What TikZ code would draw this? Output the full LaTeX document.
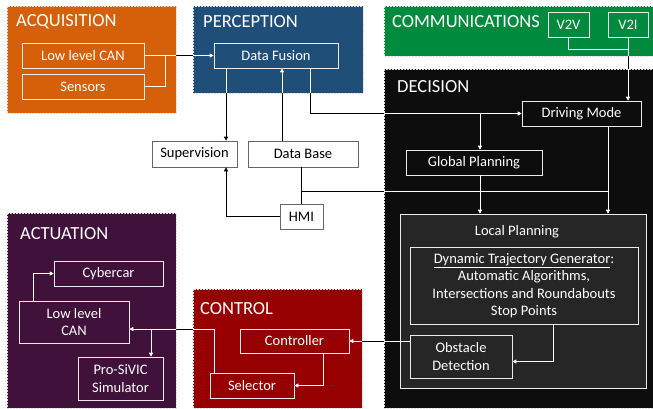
\documentclass[tikz,border=0pt]{standalone}
\usepackage{fontspec}
\setmainfont{Carlito}
\usetikzlibrary{arrows.meta}

\definecolor{acqcol}{RGB}{214,96,9}
\definecolor{perccol}{RGB}{31,78,121}
\definecolor{commcol}{RGB}{0,138,62}
\definecolor{deccol}{RGB}{13,13,13}
\definecolor{actcol}{RGB}{64,17,59}
\definecolor{ctlcol}{RGB}{150,0,0}
\definecolor{lpcol}{RGB}{38,38,38}

\tikzset{
  blk/.style={draw=white!75!gray, dash pattern=on 2pt off 1pt, line width=.5pt},
  ttl/.style={anchor=west, inner sep=0pt, text=white, font=\fontsize{18.5}{20}\selectfont},
  wbox/.style={draw=white!85!gray, line width=.6pt, text=white, inner sep=1pt,
     align=center, font=\fontsize{14.5}{17.5}\selectfont},
  bbox/.style={draw=black!60, line width=.6pt, fill=white, text=black, inner sep=1pt,
     font=\fontsize{14.5}{17.5}\selectfont},
  lnk/.style={line width=.6pt},
  arr/.style={lnk, -{Triangle[length=4pt,width=4pt]}}
}

% all connectors, drawn once in black and once in white inside the blocks
\newcommand\connectors[1]{
  \begin{scope}[#1]
  \draw[lnk] (acan.east) -- (j1);
  \draw[lnk] (sens.east) -| (j1);
  \draw[arr] (j1) -- (fusion.west);
  \draw[arr] ([xshift=-50pt]fusion.south) -- ([xshift=-50pt]fusion.south |- superv.north);
  \draw[arr] ([xshift=-21pt]dbase.north) -- ([xshift=-21pt]dbase.north |- fusion.south);
  \draw[arr] ([xshift=34pt]fusion.south) |- (drive.west);
  \draw[arr] ([xshift=6pt]glob.north |- drive.west) -- ([xshift=6pt]glob.north);
  \draw[lnk] (v2v.south) |- (c1);
  \draw[arr] (v2i.south) -- (v2i.south |- drive.north);
  \draw[arr] ([xshift=26.5pt]drive.south) -- ([xshift=26.5pt]drive.south |- local.north);
  \draw[arr] ([xshift=6pt]glob.south) -- ([xshift=6pt]glob.south |- local.north);
  \draw[lnk] (dbase.south -| hmi.north) -- (hmi.north);
  \draw[lnk] (j2) -- (j2 -| hmi.north);
  \draw[arr] (hmi.west) -| ([xshift=31.5pt]superv.south);
  \draw[arr] ([xshift=29pt]dtg.south) |- ([yshift=-5pt]obst.east);
  \draw[arr] (obst.west |- ctrl.east) -- (ctrl.east);
  \draw[arr] ([xshift=28.5pt]ctrl.south) |- (selec.east);
  \draw[arr] ([xshift=-38pt]selec.north) |- (j3);
  \draw[arr] (s1 |- j3) -- (s1);
  \draw[arr] ([xshift=-41pt]lcan.north) |- (cyber.west);
  \end{scope}
}

\begin{document}
\begin{tikzpicture}[x=1pt, y=-1pt]
\useasboundingbox (0,0) rectangle (653,408);

\fill[acqcol]  (7,6) rectangle (176,113);
\fill[perccol] (193,6) rectangle (363,93);
\fill[commcol] (384,6) rectangle (653,56);
\fill[deccol]  (384,69) rectangle (653,408);
\fill[actcol]  (7,213) rectangle (176,408);
\fill[ctlcol]  (193,289) rectangle (362,408);
\draw[blk] (7,6) rectangle (176,113);
\draw[blk] (193,6) rectangle (363,93);
\draw[blk] (384,6) rectangle (653,56);
\draw[blk] (384,69) rectangle (653,408);
\draw[blk] (7,213) rectangle (176,408);
\draw[blk] (193,289) rectangle (362,408);

\node[ttl] (tacq) at (16,22) {ACQUISITION};
\node[ttl] (tperc) at (203,22) {PERCEPTION};
\node[ttl] (tcomm) at (392,22) {COMMUNICATIONS};
\node[ttl] (tdec) at (397,87) {DECISION};
\node[ttl] (tact) at (20,234) {ACTUATION};
\node[ttl] (tctl) at (200,309) {CONTROL};

\node[wbox, minimum width=122pt, minimum height=25pt] (acan) at (83,55.5) {Low level CAN};
\node[wbox, minimum width=122pt, minimum height=25pt] (sens) at (83,86.5) {Sensors};
\node[wbox, minimum width=124pt, minimum height=25pt] (fusion) at (276,55.5) {Data Fusion};
\node[bbox, minimum width=85pt, minimum height=26pt] (superv) at (194.5,154) {Supervision};
\node[bbox, minimum width=110pt, minimum height=26pt] (dbase) at (303,154) {Data Base};
\node[bbox, minimum width=43pt, minimum height=25pt] (hmi) at (301.5,216.5) {HMI};
\node[wbox, minimum width=41pt, minimum height=25pt] (v2v) at (568.5,24.5) {V2V};
\node[wbox, minimum width=40pt, minimum height=25pt] (v2i) at (628,24.5) {V2I};
\node[wbox, minimum width=119pt, minimum height=25pt] (drive) at (581.5,113.5) {Driving Mode};
\node[wbox, minimum width=136pt, minimum height=25pt] (glob) at (474,162.5) {Global Planning};
\node[wbox, fill=lpcol, minimum width=246pt, minimum height=174pt] (local) at (523,301) {};
\node[text=white, font=\fontsize{14.5}{17.5}\selectfont] (llbl) at (517,232) {Local Planning};
\node[wbox, minimum width=228pt, minimum height=77pt] (dtg) at (524,285.5)
  {\underline{Dynamic Trajectory Generator}:\\Automatic Algorithms,\\Intersections and Roundabouts\\Stop Points};
\node[wbox, minimum width=102pt, minimum height=43pt] (obst) at (461,356.5) {Obstacle\\Detection};
\node[wbox, minimum width=109pt, minimum height=24pt] (ctrl) at (294.5,341) {Controller};
\node[wbox, minimum width=84pt, minimum height=25pt] (selec) at (252,385.5) {Selector};
\node[wbox, minimum width=109pt, minimum height=25pt] (cyber) at (108.5,273.5) {Cybercar};
\node[wbox, minimum width=110pt, minimum height=42pt] (lcan) at (74,322) {Low level\\CAN};
\node[wbox, minimum width=85pt, minimum height=43pt] (sivic) at (120.5,378.5) {Pro-SiVIC\\Simulator};

\coordinate (j1) at (165,55.5);
\coordinate (c1) at (628,49);
\coordinate (j2) at (608,191);
\coordinate (j3) at ([yshift=-7pt]lcan.east);
\coordinate (s1) at ([xshift=30.5pt]sivic.north);

\connectors{black}
\begin{scope}
  \clip (7,6) rectangle (176,113) (193,6) rectangle (363,93)
        (384,6) rectangle (653,56) (384,69) rectangle (653,408)
        (7,213) rectangle (176,408) (193,289) rectangle (362,408);
  \connectors{white}
\end{scope}
\end{tikzpicture}
\end{document}
